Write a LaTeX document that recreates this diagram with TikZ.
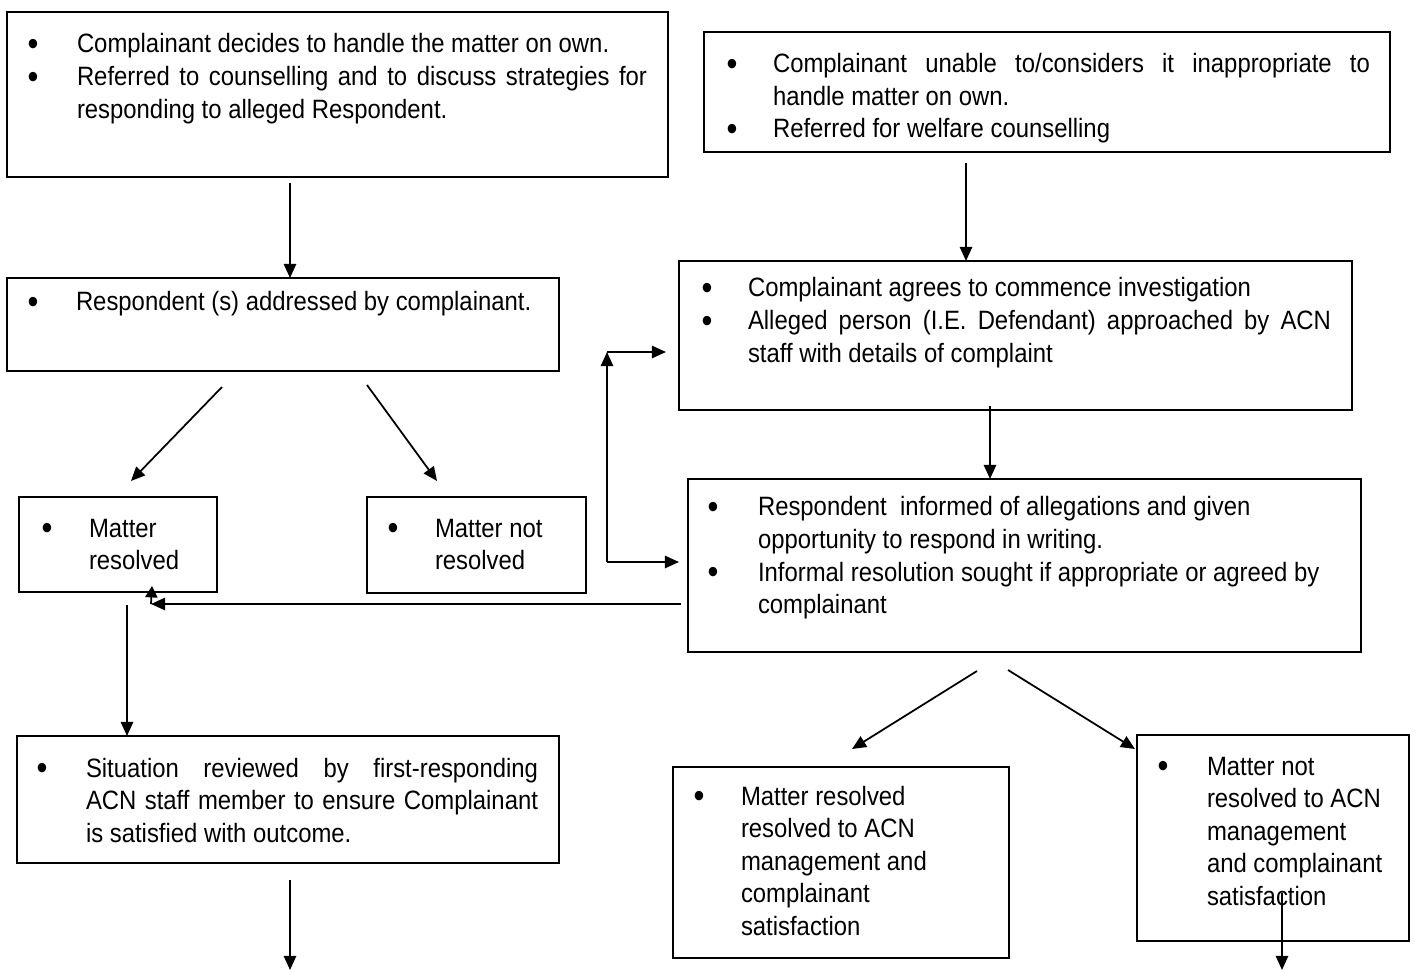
\documentclass[tikz,border=0pt]{standalone}
\usepackage{fontspec}
\setmainfont{Liberation Sans}[FakeStretch=0.9]
\usepackage{tikz}
\usetikzlibrary{arrows.meta}
\newlength\unitpx
\setlength\unitpx{0.02cm}
\newlength\bulgap
% box body: width, height, first baseline, bullet centre, text start, right margin, right stretch, items
\newcommand{\flowbody}[8]{%
  \parbox[t][#2\unitpx][t]{#1\unitpx}{%
    \fontsize{15.1}{18.5}\selectfont
    \setlength\bulgap{\dimexpr#5\unitpx-#4\unitpx\relax}%
    \leftskip=#5\unitpx \rightskip=#6\unitpx plus #7\relax
    \parindent=0pt \parfillskip=0pt plus 1fil
    \vspace*{\dimexpr#3\unitpx-11.5pt\relax}%
    #8\par}}
\newcommand{\bigbul}{\raisebox{-1.6pt}{\scalebox{1.3}{\textbullet}}}
\newcommand{\bitem}[1]{\par\noindent\rule{0pt}{11.5pt}\llap{\makebox[\bulgap][l]{\makebox[0pt]{\bigbul}}}#1}

\begin{document}
\begin{tikzpicture}[x=0.02cm, y=-0.02cm,
    flowbox/.style={draw, line width=1.1pt, inner sep=0pt, outer sep=0pt, anchor=north west},
    arr/.style={line width=1pt, -{Triangle[length=8pt, width=7pt]}}]
    \useasboundingbox (0,0) rectangle (1415,972);
    % boxes, left column
    \node[flowbox] (a) at (7,12) {\flowbody{661}{165}{41}{26}{70}{21}{0pt}{%
      \bitem{Complainant decides to handle the matter on own.}%
      \bitem{Referred to counselling and to discuss strategies for\linebreak responding to alleged Respondent.}}};
    \node[flowbox] (c) at (7,278) {\flowbody{552}{93}{33}{26}{69}{10}{1fil}{%
      \bitem{Respondent (s) addressed by complainant.}}};
    \node[flowbox] (e) at (19,497) {\flowbody{198}{95}{40}{28}{70}{5}{1fil}{%
      \bitem{Matter\newline resolved}}};
    \node[flowbox] (f) at (367,497) {\flowbody{219}{96}{40}{26}{68}{5}{1fil}{%
      \bitem{Matter not\newline resolved}}};
    \node[flowbox] (h) at (17,736) {\flowbody{542}{127}{41}{25}{69}{21}{0pt}{%
      \bitem{Situation reviewed by first-responding\linebreak ACN staff member to ensure Complainant\linebreak is satisfied with outcome.}}};
    % boxes, right column
    \node[flowbox] (b) at (704,32) {\flowbody{686}{120}{41}{28}{69}{20}{0pt}{%
      \bitem{Complainant unable to/considers it inappropriate to\linebreak handle matter on own.}%
      \bitem{Referred for welfare counselling}}};
    \node[flowbox] (d) at (679,261) {\flowbody{673}{149}{36}{28}{69}{21}{0pt}{%
      \bitem{Complainant agrees to commence investigation}%
      \bitem{Alleged person (I.E. Defendant) approached by ACN\linebreak staff with details of complaint}}};
    \node[flowbox] (g) at (688,479) {\flowbody{673}{173}{37}{25}{70}{10}{1fil}{%
      \bitem{Respondent\ \ informed of allegations and given\newline opportunity to respond in writing.}%
      \bitem{Informal resolution sought if appropriate or agreed by\newline complainant}}};
    \node[flowbox] (i) at (673,767) {\flowbody{336}{191}{38}{26}{68}{5}{1fil}{%
      \bitem{Matter resolved\newline resolved to ACN\newline management and\newline complainant\newline satisfaction}}};
    \node[flowbox] (j) at (1137,735) {\flowbody{272}{206}{40}{26}{70}{5}{1fil}{%
      \bitem{Matter not\newline resolved to ACN\newline management\newline and complainant\newline satisfaction}}};
    % free ends of the connectors
    \coordinate (a-out) at (290,183);
    \coordinate (b-out) at (966,163);
    \coordinate (c-l) at (222,387);
    \coordinate (c-r) at (367,385);
    \coordinate (e-in) at (131,481);
    \coordinate (f-in) at (437,481);
    \coordinate (d-out) at (990,406);
    \coordinate (lp-low) at (607,562);
    \coordinate (lp-top) at (607,352);
    \coordinate (d-in) at (666,352);
    \coordinate (g-in) at (679,562);
    \coordinate (g-back) at (681,604);
    \coordinate (e-back) at (151,604);
    \coordinate (e-up) at (152,586);
    \coordinate (e-down) at (127,605);
    \coordinate (h-out) at (290,880);
    \coordinate (h-end) at (290,970);
    \coordinate (g-l) at (977,671);
    \coordinate (g-r) at (1008,670);
    \coordinate (i-in) at (852,749);
    \coordinate (j-in) at (1135,749);
    \coordinate (j-out) at (1282,893);
    \coordinate (j-end) at (1282,970);
    % arrows
    \draw[arr] (a-out) -- (c.north -| a-out);
    \draw[arr] (b-out) -- (d.north -| b-out);
    \draw[arr] (c-l) -- (e-in);
    \draw[arr] (c-r) -- (f-in);
    \draw[arr] (d-out) -- (g.north -| d-out);
    \draw[arr] (lp-low) -- (lp-top);
    \draw[arr] (lp-top) -- (d-in);
    \draw[arr] (lp-low) -- (g-in);
    \draw[arr] (g-back) -- (e-back);
    \draw[arr, -{Triangle[length=6.5pt, width=7pt]}] (e-back) -- (e-up);
    \draw[arr] (e-down) -- (h.north -| e-down);
    \draw[arr] (h-out) -- (h-end);
    \draw[arr] (g-l) -- (i-in);
    \draw[arr] (g-r) -- (j-in);
    \draw[arr] (j-out) -- (j-end);
\end{tikzpicture}
\end{document}
